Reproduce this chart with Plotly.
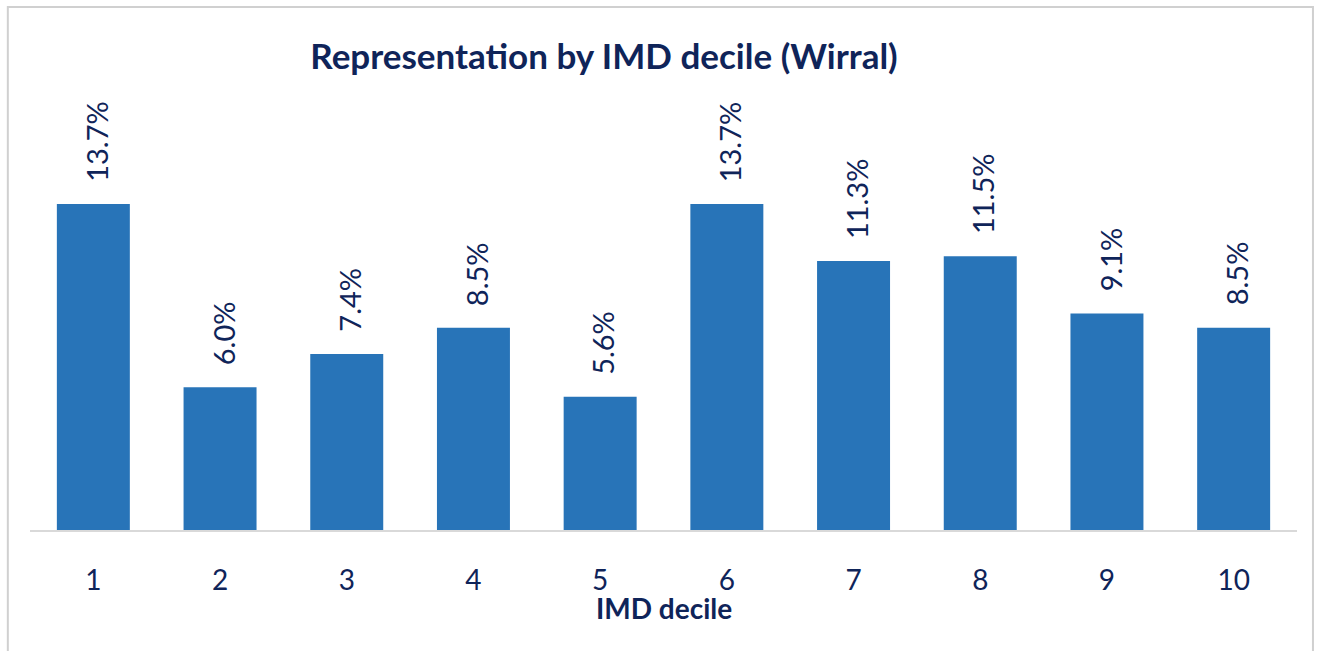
import plotly.graph_objects as go

categories = ["1", "2", "3", "4", "5", "6", "7", "8", "9", "10"]
values = [13.7, 6.0, 7.4, 8.5, 5.6, 13.7, 11.3, 11.5, 9.1, 8.5]
labels = [f"{v:.1f}%" for v in values]
title_text = "Representation by IMD decile (Wirral)"
x_title = "IMD decile"

NAVY = "#0F2459"
BLUE = "#2874B8"
FONT = "Lato"

fig = go.Figure()
fig.add_trace(go.Bar(
    x=categories, y=values, marker=dict(color=BLUE, line=dict(width=0)),
    width=0.576, hoverinfo="skip",
))

for i, (v, t) in enumerate(zip(values, labels)):
    fig.add_annotation(
        x=i, y=v, text=t, showarrow=False, textangle=-90,
        xanchor="center", yanchor="bottom", yshift=20, xshift=3,
        font=dict(family=FONT, size=29, color=NAVY),
    )

fig.add_annotation(
    xref="paper", yref="paper", x=0.5, y=0, yshift=-78,
    xanchor="center", yanchor="middle", showarrow=False,
    text=f"<b>{x_title}</b>", font=dict(family=FONT, size=28, color=NAVY),
)

# outer chart border
fig.add_shape(type="rect", xref="paper", yref="paper",
              x0=-0.0175, x1=1.0126, y0=-0.4, y1=1.1622,
              line=dict(color="#D0D0D0", width=2), fillcolor="rgba(0,0,0,0)",
              layer="below")

fig.update_layout(
    width=1317, height=651,
    margin=dict(l=30, r=20, t=80, b=121),
    paper_bgcolor="white", plot_bgcolor="white",
    showlegend=False,
    title=dict(text=f"<b>{title_text}</b>", x=604/1317, xref="container",
               xanchor="center", y=1-57/651, yref="container", yanchor="middle",
               font=dict(family=FONT, size=35, color=NAVY)),
    font=dict(family=FONT, color=NAVY),
    xaxis=dict(
        type="category", range=[-0.5, 9.5],
        showgrid=False, showline=True, linecolor="#D9D9D9", linewidth=2,
        ticks="", tickfont=dict(family=FONT, size=28, color=NAVY),
        ticklabelstandoff=24, zeroline=False,
    ),
    yaxis=dict(visible=False, range=[0, 450/23.8], showgrid=False, zeroline=False),
)

fig.write_html(
    "out.html",
    config={"displayModeBar": False},
    post_script="document.body.style.margin='0px';document.body.style.overflow='hidden';",
)
